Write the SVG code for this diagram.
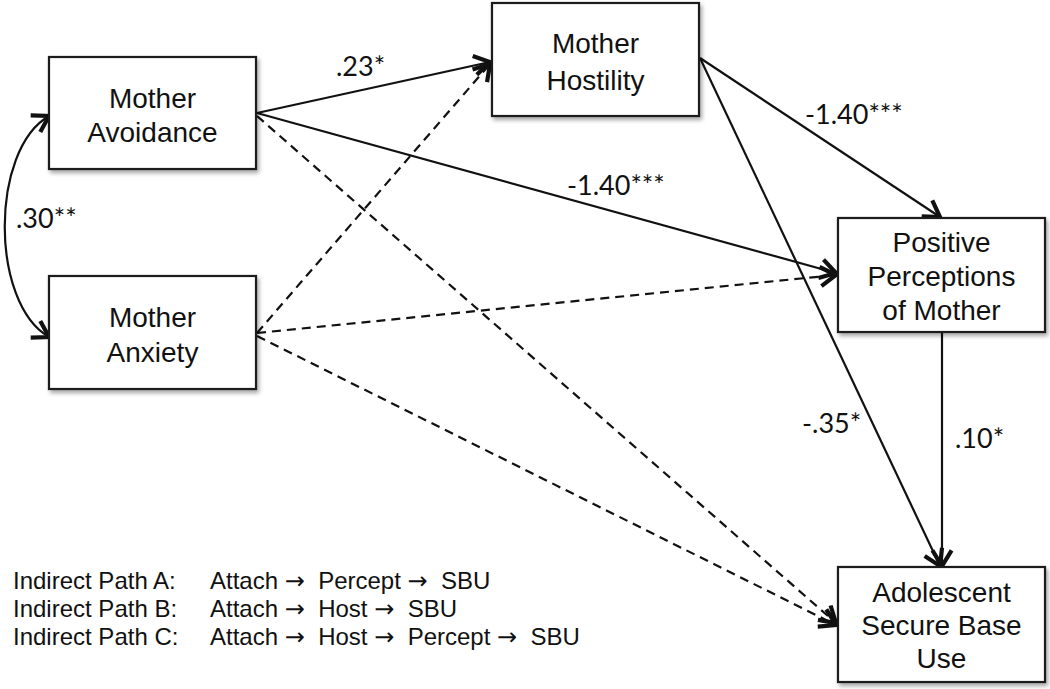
<svg xmlns="http://www.w3.org/2000/svg" width="1050" height="689" viewBox="0 0 1050 689">
<style>
.box{fill:#fff;stroke:#1a1a1a;stroke-width:2.2;filter:url(#sh)}
.nt{font-family:"Liberation Sans",Arial,sans-serif;font-size:28px;fill:#111;text-anchor:middle}
.lbl{font-family:Lato,"Liberation Sans",sans-serif;font-size:27px;fill:#111}
.leg{font-family:"Liberation Sans",Arial,sans-serif;font-size:24px;fill:#111}
.ar{font-family:"DejaVu Sans",sans-serif}
.ln{fill:none;stroke:#111;stroke-width:2.2;marker-end:url(#ah)}
.ds{stroke-dasharray:9 6}
</style>
<defs>
<filter id="sh" x="-10%" y="-10%" width="130%" height="130%">
<feDropShadow dx="2" dy="3" stdDeviation="2" flood-color="#000" flood-opacity="0.35"/>
</filter>
<marker id="ah" markerUnits="userSpaceOnUse" markerWidth="24" markerHeight="24" viewBox="-16 -10 20 20" refX="0" refY="0" orient="auto-start-reverse">
<path d="M-13,-8 L0,0 L-13,8" fill="none" stroke="#111" stroke-width="3.5" stroke-linejoin="miter"/>
</marker>
</defs>
<rect width="1050" height="689" fill="#fff"/>
<g id="connectors">
<path class="ln" d="M49,116 C-10,150 -10,303 49,337" marker-start="url(#ah)"/>
<path class="ln" d="M257,113 L490,62"/>
<path class="ln" d="M257,113 L836,273"/>
<path class="ln ds" d="M257,116 L836,623"/>
<path class="ln ds" d="M257,333 L490,64"/>
<path class="ln ds" d="M257,333 L836,275"/>
<path class="ln ds" d="M257,336 L836,625"/>
<path class="ln" d="M700,58 L940,217"/>
<path class="ln" d="M700,58 L940,566"/>
<path class="ln" d="M942,332 L942,566"/>
</g>
<g id="labels">
<text class="lbl" x="336" y="76">.23*</text>
<text class="lbl" x="805" y="124">-1.40***</text>
<text class="lbl" x="567" y="195">-1.40***</text>
<text class="lbl" x="16" y="228">.30**</text>
<text class="lbl" x="802" y="433">-.35*</text>
<text class="lbl" x="955" y="448">.10*</text>
</g>
<g id="avoidance">
<rect class="box" x="49" y="57" width="207" height="112"/>
<text class="nt" x="152.5" y="108">Mother</text>
<text class="nt" x="152.5" y="142">Avoidance</text>
</g>
<g id="anxiety">
<rect class="box" x="49" y="276" width="207" height="113"/>
<text class="nt" x="152.5" y="327">Mother</text>
<text class="nt" x="152.5" y="362">Anxiety</text>
</g>
<g id="hostility">
<rect class="box" x="492" y="3" width="207" height="113"/>
<text class="nt" x="595.5" y="53">Mother</text>
<text class="nt" x="595.5" y="90">Hostility</text>
</g>
<g id="perceptions">
<rect class="box" x="838" y="218" width="207" height="114"/>
<text class="nt" x="941.5" y="252">Positive</text>
<text class="nt" x="941.5" y="286">Perceptions</text>
<text class="nt" x="941.5" y="320">of Mother</text>
</g>
<g id="sbu">
<rect class="box" x="838" y="567" width="207" height="115"/>
<text class="nt" x="941.5" y="602">Adolescent</text>
<text class="nt" x="941.5" y="635">Secure Base</text>
<text class="nt" x="941.5" y="668">Use</text>
</g>
<g id="legend">
<text class="leg" x="13" y="589" xml:space="preserve">Indirect Path A:<tspan x="210">Attach </tspan><tspan class="ar">→</tspan>  Percept <tspan class="ar">→</tspan>  SBU</text>
<text class="leg" x="13" y="617" xml:space="preserve">Indirect Path B:<tspan x="210">Attach </tspan><tspan class="ar">→</tspan>  Host <tspan class="ar">→</tspan>  SBU</text>
<text class="leg" x="13" y="645" xml:space="preserve">Indirect Path C:<tspan x="210">Attach </tspan><tspan class="ar">→</tspan>  Host <tspan class="ar">→</tspan>  Percept <tspan class="ar">→</tspan>  SBU</text>
</g>
</svg>
